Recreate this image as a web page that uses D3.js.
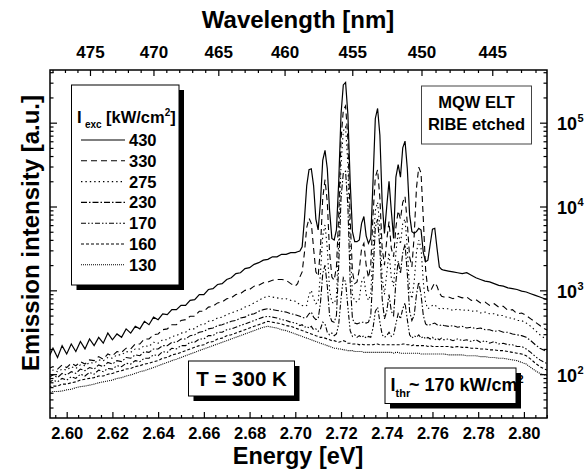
<!DOCTYPE html>
<html>
<head>
<meta charset="utf-8">
<script src="https://cdn.jsdelivr.net/npm/d3@7"></script>
<style>
  body { margin: 0; background: #fff; }
  svg text { font-family: "Liberation Sans", Arial, sans-serif; font-weight: bold; fill: #000; }
</style>
</head>
<body>
<svg id="chart" width="585" height="471"></svg>
<script>
// Photon energy sampling points (eV)
const energyEv = [
  2.592,2.594,2.596,2.598,2.600,2.602,2.604,2.606,2.608,2.610,
  2.612,2.614,2.616,2.618,2.620,2.622,2.624,2.626,2.628,2.630,
  2.632,2.634,2.636,2.638,2.640,2.642,2.644,2.646,2.648,2.650,
  2.652,2.654,2.656,2.658,2.660,2.662,2.664,2.666,2.668,2.670,
  2.672,2.674,2.676,2.678,2.680,2.682,2.684,2.686,2.688,2.690,
  2.692,2.694,2.696,2.698,2.700,
  2.701,2.702,2.703,2.704,2.705,2.706,2.707,2.708,2.709,2.710,
  2.711,2.712,2.713,2.714,2.715,2.716,2.717,2.718,2.719,2.720,
  2.721,2.722,2.723,2.724,2.725,2.726,2.727,2.728,2.729,2.730,
  2.731,2.732,2.733,2.734,2.735,2.736,2.737,2.738,2.739,2.740,
  2.741,2.742,2.743,2.744,2.745,2.746,2.747,2.748,2.749,2.750,
  2.751,2.752,2.753,2.754,2.755,2.756,2.757,2.758,2.759,2.760,
  2.761,2.762,2.763,2.764,2.765,
  2.767,2.769,2.771,2.773,2.775,2.777,2.779,2.781,2.783,2.785,
  2.787,2.789,2.791,2.793,2.795,2.797,2.799,2.801,2.803,2.805,
  2.807,2.809,2.811
];

// Emission intensity (a.u.) for each excitation density
const intensity430 = [
  155,204,158,219,174,229,186,245,200,263,
  219,275,234,309,257,302,275,347,309,372,
  347,427,389,479,447,525,513,589,589,661,
  661,759,776,891,891,1023,1047,1175,1202,1349,
  1413,1585,1622,1820,1862,2042,2138,2291,2344,2512,
  2512,2692,2692,2818,2818,
  2884,2951,3311,7079,17780,27540,28180,17780,7079,5248,
  11220,35480,46770,28180,8913,4169,3981,5248,19950,125900,
  281800,302000,125900,19950,5012,3802,3802,3981,6310,7586,
  4467,3631,4169,19950,112200,147900,70790,11220,4786,10000,
  19950,8913,4169,22390,31620,22390,50120,60260,28180,7943,
  5012,4786,5012,5495,5248,2818,2188,2291,3548,5370,
  5495,3162,1905,1778,1738,
  1698,1660,1622,1585,1622,1514,1413,1349,1288,1259,
  1202,1148,1122,1072,1047,1023,977,955,912,871,
  832,794,759
];

const intensity330 = [
  117,123,115,129,120,135,126,141,132,148,
  145,162,151,174,166,186,182,204,200,229,
  229,263,263,295,302,339,347,389,389,437,
  447,490,490,562,562,631,646,708,724,794,
  813,891,912,1000,1023,1122,1148,1230,1259,1318,
  1349,1349,1318,1202,1122,
  1202,1445,1660,2818,5623,7244,6310,3162,1660,1479,
  3162,12590,20890,11220,2818,1445,1318,1905,7943,63100,
  141300,158500,63100,7079,1660,1202,1259,1778,3162,3631,
  1995,1413,1995,7943,22390,27540,12590,3162,1995,3981,
  6607,3162,2512,5623,8913,7079,11220,13180,6310,2512,
  1905,4467,16600,29510,25120,7079,1778,1000,955,1096,
  1230,1122,933,851,832,
  832,794,851,813,832,759,776,708,724,661,
  692,631,646,575,589,525,537,501,457,417,
  380,347,331
];

const intensity275 = [
  105,112,107,115,112,123,117,129,126,138,
  135,148,145,158,155,170,170,186,182,200,
  200,219,214,240,234,257,257,282,288,309,
  316,347,347,389,389,427,437,468,479,513,
  537,562,589,631,661,708,759,813,851,832,
  813,794,794,759,741,
  708,676,661,646,661,891,1000,794,692,724,
  1585,4467,6026,3162,1000,724,692,832,3981,31620,
  79430,89130,31620,3162,891,741,724,794,1259,1413,
  891,759,891,3162,8913,11220,5623,1413,891,1585,
  2818,1413,1122,2818,5012,3548,6310,7079,3162,1000,
  794,1259,2818,3981,3162,1259,708,603,631,661,
  676,631,603,617,603,
  603,575,603,575,589,562,575,537,550,525,
  525,501,501,468,468,437,437,407,372,331,
  295,269,257
];

const intensity230 = [
  91,98,91,102,98,107,102,115,110,120,
  115,129,123,138,132,145,141,158,155,170,
  166,186,182,200,200,219,219,240,240,263,
  263,288,295,316,324,347,355,380,389,407,
  427,437,468,479,513,525,562,589,603,589,
  575,562,550,525,513,
  501,490,479,468,479,525,550,479,447,457,
  708,1585,1995,1122,501,427,417,501,1995,12590,
  25120,26300,10000,1259,457,407,398,407,417,417,
  407,417,501,1585,5623,7079,3162,794,457,562,
  891,562,501,1259,2239,1585,2818,3548,1585,562,
  437,501,891,1259,891,501,398,380,389,398,
  407,389,380,389,380,
  372,380,363,372,355,363,347,355,339,339,
  324,331,316,316,302,295,288,275,251,224,
  204,191,182
];

const intensity170 = [
  79,85,81,89,85,93,89,100,95,105,
  100,112,107,117,115,126,123,135,132,145,
  141,155,155,170,166,186,182,204,200,219,
  219,240,240,263,263,288,288,316,316,339,
  347,363,380,398,417,437,457,479,490,479,
  468,447,437,417,407,
  398,380,389,363,372,355,372,339,347,324,
  347,417,398,316,295,309,288,302,398,794,
  1413,1259,631,331,282,295,275,288,275,288,
  269,282,275,355,562,631,417,295,275,288,
  316,282,295,398,525,457,603,708,447,295,
  269,288,275,295,269,282,263,275,263,275,
  257,269,257,269,257,
  263,251,263,251,257,245,257,240,251,234,
  245,229,234,224,224,214,214,200,182,162,
  148,138,132
];

const intensity160 = [
  71,72,72,76,76,79,81,85,87,89,
  91,95,95,100,102,107,110,115,117,123,
  126,132,135,141,145,155,158,170,174,182,
  191,200,209,219,224,240,245,263,269,288,
  295,309,324,339,355,372,389,407,427,417,
  407,398,380,372,355,
  347,339,331,324,316,309,302,295,288,282,
  275,275,269,263,257,251,251,245,240,245,
  251,245,234,234,229,229,229,224,229,224,
  224,224,224,224,229,229,224,224,224,224,
  224,224,224,224,224,224,229,229,224,224,
  219,224,219,219,219,219,219,214,219,214,
  214,214,214,214,214,
  214,209,214,209,209,204,204,200,200,195,
  195,191,191,186,182,178,174,166,151,135,
  123,115,110
];

const intensity130 = [
  60,62,62,63,65,66,69,71,72,74,
  76,79,81,83,85,89,91,95,98,102,
  107,110,115,120,126,132,138,145,151,158,
  166,174,182,191,200,209,219,229,240,251,
  263,275,288,302,316,331,347,363,372,363,
  355,339,331,316,302,
  295,288,282,275,269,263,257,251,245,240,
  234,229,224,219,214,209,204,204,200,200,
  195,195,191,191,191,186,186,186,186,182,
  182,182,182,182,182,182,182,182,182,182,
  182,182,178,182,182,178,178,178,178,178,
  178,178,178,178,174,174,174,174,174,174,
  174,174,174,174,174,
  170,170,170,170,166,166,166,162,162,158,
  158,155,155,151,148,145,138,132,120,110,
  102,98,95
];

const excitationLabels = ["430", "330", "275", "230", "170", "160", "130"];
const energyTicks = [2.60, 2.62, 2.64, 2.66, 2.68, 2.70, 2.72, 2.74, 2.76, 2.78, 2.80];
const wavelengthTicks = [475, 470, 465, 460, 455, 450, 445];
const intensityDecades = [100, 1000, 10000, 100000];

const seriesValues = [intensity430, intensity330, intensity275, intensity230, intensity170, intensity160, intensity130];
const dashPatterns = ["none", "6,4", "1.4,3", "6,2,1.5,2", "5,2,1.5,2,1.5,2", "3,2", "1,1"];

const HC = 1239.84; // eV*nm

const svg = d3.select("#chart");
const plot = { left: 50, right: 547, top: 70, bottom: 418 };

const x = d3.scaleLinear().domain([2.5927, 2.8101]).range([plot.left, plot.right]);
const y = d3.scaleLog().domain([30, 4.25e5]).range([plot.bottom, plot.top]);

svg.append("rect").attr("width", 585).attr("height", 471).attr("fill", "#fff");

svg.append("defs").append("clipPath").attr("id", "plotClip")
  .append("rect")
  .attr("x", plot.left).attr("y", plot.top)
  .attr("width", plot.right - plot.left).attr("height", plot.bottom - plot.top);

// spectra
const line = d3.line().x(d => x(d[0])).y(d => y(d[1]));
const spectra = svg.append("g").attr("clip-path", "url(#plotClip)");
seriesValues.forEach((vals, i) => {
  const pts = energyEv.map((e, k) => [e, vals[k]]);
  spectra.append("path")
    .attr("d", line(pts))
    .attr("fill", "none")
    .attr("stroke", "#000")
    .attr("stroke-width", i === 0 ? 1.2 : 1.1)
    .attr("stroke-dasharray", dashPatterns[i]);
});

// axes
function styleAxis(g, fontSize) {
  g.select(".domain").remove();
  g.selectAll(".tick line").attr("stroke", "#000").attr("stroke-width", 1.2);
  g.selectAll("text")
    .attr("font-family", "Liberation Sans, Arial, sans-serif")
    .attr("font-weight", "bold")
    .attr("font-size", fontSize)
    .attr("fill", "#000");
}

const energyMinor = d3.range(2.595, 2.8101, 0.005).filter(v => Math.abs(Math.round(v * 50) - v * 50) > 1e-6);
const wavelengthMinor = d3.range(442, 479, 1).filter(v => v % 5 !== 0).map(l => HC / l);
const intensityMinor = [];
[10, 100, 1000, 10000, 100000].forEach(dec => {
  for (let m = 2; m <= 9; m++) {
    const v = m * dec;
    if (v > 30 && v < 4.25e5) intensityMinor.push(v);
  }
});

// bottom: energy
svg.append("g").attr("transform", `translate(0,${plot.bottom})`)
  .call(d3.axisBottom(x).tickValues(energyTicks).tickSize(-6).tickPadding(9).tickFormat(d3.format(".2f")))
  .call(g => styleAxis(g, "16.5px"));
svg.append("g").attr("transform", `translate(0,${plot.bottom})`)
  .call(d3.axisBottom(x).tickValues(energyMinor).tickSize(-3).tickFormat(""))
  .call(g => styleAxis(g, "1px"));

// top: wavelength
svg.append("g").attr("transform", `translate(0,${plot.top})`)
  .call(d3.axisTop(x).tickValues(wavelengthTicks.map(l => HC / l)).tickSize(-6).tickPadding(12)
    .tickFormat((d, i) => wavelengthTicks[i]))
  .call(g => styleAxis(g, "17px"));
svg.append("g").attr("transform", `translate(0,${plot.top})`)
  .call(d3.axisTop(x).tickValues(wavelengthMinor).tickSize(-3).tickFormat(""))
  .call(g => styleAxis(g, "1px"));

// left / right: intensity
[[plot.left, d3.axisLeft], [plot.right, d3.axisRight]].forEach(([xp, axisFn]) => {
  svg.append("g").attr("transform", `translate(${xp},0)`)
    .call(axisFn(y).tickValues(intensityDecades).tickSize(-7).tickFormat(""))
    .call(g => styleAxis(g, "1px"));
  svg.append("g").attr("transform", `translate(${xp},0)`)
    .call(axisFn(y).tickValues(intensityMinor).tickSize(-3.5).tickFormat(""))
    .call(g => styleAxis(g, "1px"));
});

// right axis labels: powers of ten
intensityDecades.forEach(d => {
  const t = svg.append("text")
    .attr("x", plot.right + 10).attr("y", y(d) + 7.5)
    .attr("font-size", "18px");
  t.append("tspan").text("10");
  t.append("tspan").attr("font-size", "11px").attr("dy", -8).attr("dx", 0.5).text(Math.round(Math.log10(d)));
});

// frame
svg.append("rect")
  .attr("x", plot.left).attr("y", plot.top)
  .attr("width", plot.right - plot.left).attr("height", plot.bottom - plot.top)
  .attr("fill", "none").attr("stroke", "#000").attr("stroke-width", 1.5);

// axis titles
svg.append("text").attr("x", 298).attr("y", 28).attr("text-anchor", "middle")
  .attr("font-size", "24px").text("Wavelength [nm]");
svg.append("text").attr("x", 298).attr("y", 464).attr("text-anchor", "middle")
  .attr("font-size", "23.5px").text("Energy [eV]");
svg.append("text").attr("transform", "translate(39,233) rotate(-90)").attr("text-anchor", "middle")
  .attr("font-size", "24px").text("Emission intensity [a.u.]");

// boxed annotation helper
function shadowBox(x0, y0, w, h, shadow) {
  if (shadow) {
    svg.append("rect").attr("x", x0 + 5).attr("y", y0 + 5).attr("width", w).attr("height", h).attr("fill", "#000");
  }
  svg.append("rect").attr("x", x0).attr("y", y0).attr("width", w).attr("height", h)
    .attr("fill", "#fff").attr("stroke", shadow ? "#000" : "#444").attr("stroke-width", 1);
}

// legend
shadowBox(71.5, 85, 107.5, 200, true);
svg.append("text").attr("x", 77).attr("y", 122.7).attr("font-size", "16.5px").text("I");
svg.append("text").attr("x", 85).attr("y", 127.5).attr("font-size", "10px").text("exc");
const hdr = svg.append("text").attr("x", 106).attr("y", 122.7).attr("font-size", "16.5px");
hdr.append("tspan").text("[kW/cm");
hdr.append("tspan").attr("font-size", "10px").attr("dy", -7).text("2");
hdr.append("tspan").attr("dy", 7).text("]");

excitationLabels.forEach((lab, i) => {
  const cy = 140 + i * 20.8;
  svg.append("line").attr("x1", 81).attr("x2", 125).attr("y1", cy).attr("y2", cy)
    .attr("stroke", "#000").attr("stroke-width", 1.1).attr("stroke-dasharray", dashPatterns[i]);
  svg.append("text").attr("x", 129).attr("y", cy + 6).attr("font-size", "16.5px").text(lab);
});

// sample label
shadowBox(421.5, 86, 110, 58, false);
svg.append("text").attr("x", 476.5).attr("y", 108).attr("text-anchor", "middle").attr("font-size", "16.5px").text("MQW ELT");
svg.append("text").attr("x", 476.5).attr("y", 129.5).attr("text-anchor", "middle").attr("font-size", "16.5px").text("RIBE etched");

// temperature
shadowBox(188.5, 361, 106, 35, true);
svg.append("text").attr("x", 241.5).attr("y", 385.5).attr("text-anchor", "middle").attr("font-size", "20.5px").text("T = 300 K");

// threshold
shadowBox(385, 368, 131, 35.5, true);
svg.append("text").attr("x", 390.5).attr("y", 391).attr("font-size", "18px").text("I");
svg.append("text").attr("x", 395.5).attr("y", 397).attr("font-size", "11px").text("thr");
const thr = svg.append("text").attr("x", 409).attr("y", 391).attr("font-size", "18px");
thr.append("tspan").text("~ 170 kW/cm");
thr.append("tspan").attr("font-size", "11px").attr("dy", -8).text("2");
</script>
</body>
</html>
